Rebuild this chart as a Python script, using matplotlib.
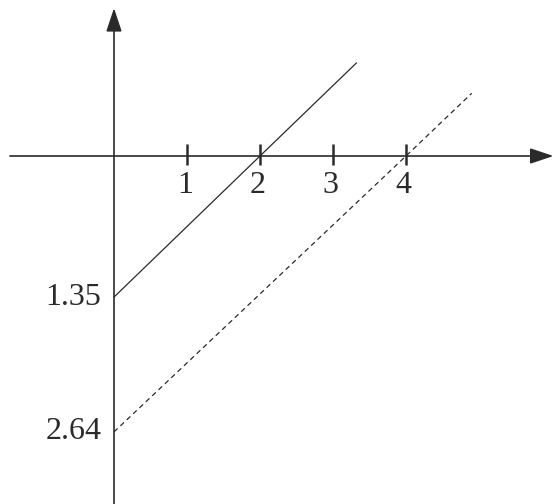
import matplotlib.pyplot as plt

plt.rcParams.update({'font.family': 'Liberation Serif', 'font.size': 23})

# sketch data: two straight lines, labelled at their intercepts
x_ticks = [1, 2, 3, 4]
x_tick_labels = ['1', '2', '3', '4']
y_marks = [-1.35, -2.64]
y_mark_labels = ['1.35', '2.64']

solid_x = [0, 2, 3.32]
solid_y = [-1.35, 0, 0.89]
dashed_x = [0, 4, 4.9]
dashed_y = [-2.64, 0, 0.6]

ink = '#2a2a2a'

fig = plt.figure(figsize=(5.54, 5.04), dpi=100)
ax = fig.add_axes([0, 0, 1, 1])
# 1 x unit ~ 73 px, 1 y unit ~ 104.5 px, origin at (114, 156) px
ax.set_xlim(-114 / 73, 440 / 73)
ax.set_ylim(-348 / 104.5, 156 / 104.5)
ax.axis('off')

# axes with arrow heads
arrow = dict(arrowstyle='-|>,head_length=0.9,head_width=0.3', color=ink,
             lw=1.2, shrinkA=0, shrinkB=0, mutation_scale=16)
ax.annotate('', xy=(6.02, 0), xytext=(-1.425, 0), arrowprops=arrow)
ax.annotate('', xy=(0, 1.415), xytext=(0, -3.4), arrowprops=arrow)

# ticks on x axis
for xt, lab in zip(x_ticks, x_tick_labels):
    ax.plot([xt, xt], [0.115, -0.085], color=ink, lw=1.8, solid_capstyle='butt')
    ax.text(xt - 0.03, -0.355, lab, ha='center', va='baseline', color=ink)

# intercept labels
for ym, lab in zip(y_marks, y_mark_labels):
    ax.text(-0.17, ym, lab, ha='right', va='center', color=ink)

ax.plot(solid_x, solid_y, color=ink, lw=0.9)
ax.plot(dashed_x, dashed_y, color=ink, lw=0.9, linestyle=(0, (4, 3)))

fig.savefig('out.png', dpi=100)
